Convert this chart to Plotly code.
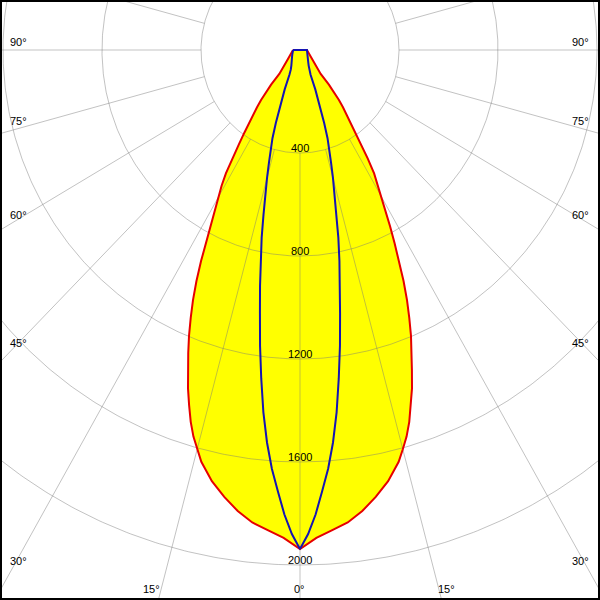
import numpy as np
import plotly.graph_objects as go

# ---- data ----
# C0-C180 plane (red, filled yellow), gamma angle in degrees -> cd
red_angles = [0, 2, 4, 6, 8, 10, 12, 14, 15, 16, 17, 18, 19, 20, 21, 22, 23, 24, 25, 26,
              27, 28, 29, 30, 31, 32, 33, 34, 35, 36, 37, 38, 39, 40, 41, 42, 45, 50, 55,
              60, 70, 80, 90]
red_cd = [1938, 1896, 1869, 1845, 1808, 1762, 1712, 1648, 1605, 1562, 1510, 1450, 1390,
          1322, 1260, 1197, 1130, 1063, 990, 912, 842, 775, 712, 658, 615, 565, 502, 440,
          392, 350, 315, 282, 250, 215, 178, 125, 98, 72, 58, 49, 38, 31, 28]

# C90-C270 plane (blue)
blue_angles = [0, 1, 2, 3, 4, 5, 6, 7, 8, 9, 10, 11, 12, 13, 14, 15, 16, 17, 18, 19, 20,
               22, 24, 26, 30, 35, 40, 50, 60, 70, 80, 90]
blue_cd = [1938, 1880, 1805, 1715, 1630, 1530, 1415, 1285, 1160, 1035, 930, 835, 745, 655,
           580, 515, 455, 410, 360, 300, 240, 165, 105, 85, 70, 58, 50, 42, 36, 32, 30, 28]

ring_values = [400, 800, 1200, 1600, 2000]
ring_labels = ["400", "800", "1200", "1600", "2000"]
spoke_angles = list(range(0, 360, 15))
angle_labels = ["90°", "75°", "60°", "45°", "30°", "15°", "0°", "15°", "30°", "45°", "60°", "75°", "90°"]

# ---- helpers ----
def to_xy(ang_deg, r):
    a = np.radians(np.asarray(ang_deg, dtype=float))
    r = np.asarray(r, dtype=float)
    return r * np.sin(a), -r * np.cos(a)

def full_curve(angles, values):
    ang = np.concatenate([-np.array(angles[::-1]), np.array(angles[1:])])
    val = np.concatenate([np.array(values[::-1]), np.array(values[1:])])
    x, y = to_xy(ang, val)
    return np.append(x, x[0]), np.append(y, y[0])

GRID = "rgba(120,120,120,0.45)"
FONT = dict(family="Liberation Sans, Arial, sans-serif", size=11, color="black")

fig = go.Figure()

# yellow fill of red curve
rx, ry = full_curve(red_angles, red_cd)
fig.add_trace(go.Scatter(x=rx, y=ry, mode="lines", fill="toself",
                         fillcolor="#ffff00", line=dict(width=0, color="rgba(0,0,0,0)"),
                         hoverinfo="skip", showlegend=False))

# grid rings
t = np.linspace(0, 360, 721)
for rv in ring_values:
    gx, gy = to_xy(t, np.full_like(t, rv))
    fig.add_trace(go.Scatter(x=gx, y=gy, mode="lines", line=dict(color=GRID, width=1),
                             hoverinfo="skip", showlegend=False))

# spokes from the first ring outward
r_in = ring_values[0]
r_out = 4000
for sa in spoke_angles:
    sx, sy = to_xy([sa, sa], [r_in, r_out])
    fig.add_trace(go.Scatter(x=sx, y=sy, mode="lines", line=dict(color=GRID, width=1),
                             hoverinfo="skip", showlegend=False))

# red outline
fig.add_trace(go.Scatter(x=rx, y=ry, mode="lines", line=dict(color="#e60000", width=2),
                         hoverinfo="skip", showlegend=False))
# blue curve
bx, by = full_curve(blue_angles, blue_cd)
fig.add_trace(go.Scatter(x=bx, y=by, mode="lines", line=dict(color="#1414b4", width=2),
                         hoverinfo="skip", showlegend=False))

# ---- layout / scales ----
SX = 0.2475  # px per cd horizontally
SY = 0.2575  # px per cd vertically
W = H = 600
M = 2
CX, CY = 300, 50  # pole position in page pixels
x_rng = [-(CX - M) / SX, (W - M - CX) / SX]
y_rng = [-(H - M - CY) / SY, (CY - M) / SY]

annotations = []
for rv, lab in zip(ring_values, ring_labels):
    annotations.append(dict(x=0, y=-rv + 5.5 / SY, xref="x", yref="y", text=lab,
                            showarrow=False, xanchor="center", yanchor="middle", font=FONT))

# angle label positions in page pixels
label_px = [(18, 41.7), (18, 121.3), (18, 214.7), (18, 343.0), (18, 560.5), (151.7, 588.7),
            (299.7, 588.5), (446, 588.7), (580.5, 560.5), (580, 343.0), (580, 214.7),
            (580.3, 121.3), (580, 41.7)]
for (px, py), lab in zip(label_px, angle_labels):
    annotations.append(dict(x=(px - M) / (W - 2 * M), y=1 - (py - M) / (H - 2 * M),
                            xref="paper", yref="paper", text=lab, showarrow=False,
                            xanchor="center", yanchor="middle", font=FONT))

fig.update_layout(
    width=W, height=H, autosize=False,
    margin=dict(l=M, r=M, t=M, b=M, pad=0),
    paper_bgcolor="black", plot_bgcolor="white",
    xaxis=dict(range=x_rng, visible=False, fixedrange=True),
    yaxis=dict(range=y_rng, visible=False, fixedrange=True),
    annotations=annotations,
    showlegend=False,
)

fig.write_html("out.html", config={"displayModeBar": False},
               post_script="document.body.style.margin='0';document.body.style.overflow='hidden';")
